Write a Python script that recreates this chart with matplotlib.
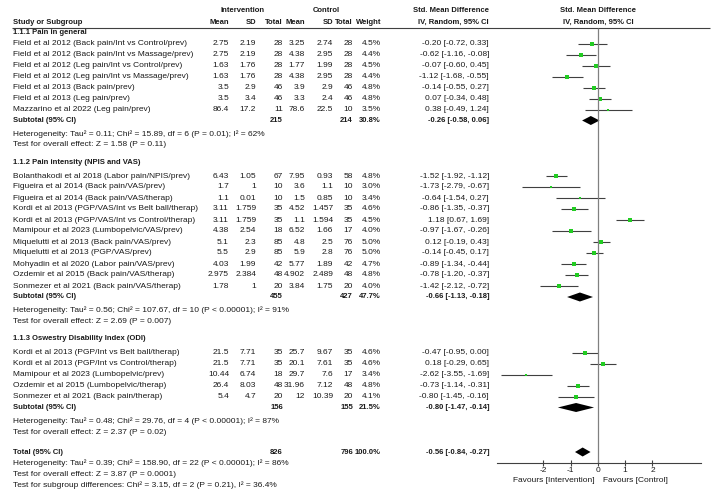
import matplotlib.pyplot as plt
import numpy as np

plt.rcParams['font.family'] = ['Liberation Sans', 'DejaVu Sans']
plt.rcParams['axes.unicode_minus'] = False

# ---- data ----
section_titles = ['1.1.1 Pain in general',
                  '1.1.2 Pain intensity (NPIS and VAS)',
                  '1.1.3 Oswestry Disability Index (ODI)']

studies = [
    'Field et al 2012 (Back pain/Int vs Control/prev)',
    'Field et al 2012 (Back pain/Int vs Massage/prev)',
    'Field et al 2012 (Leg pain/Int vs Control/prev)',
    'Field et al 2012 (Leg pain/Int vs Massage/prev)',
    'Field et al 2013 (Back pain/prev)',
    'Field et al 2013 (Leg pain/prev)',
    'Mazzarino et al 2022 (Leg pain/prev)',
    'Bolanthakodi et al 2018 (Labor pain/NPIS/prev)',
    'Figueira et al 2014 (Back pain/VAS/prev)',
    'Figueira et al 2014 (Back pain/VAS/therap)',
    'Kordi et al 2013 (PGP/VAS/Int vs Belt ball/therap)',
    'Kordi et al 2013 (PGP/VAS/Int vs Control/therap)',
    'Mamipour et al 2023 (Lumbopelvic/VAS/prev)',
    'Miquelutti et al 2013 (Back pain/VAS/prev)',
    'Miquelutti et al 2013 (PGP/VAS/prev)',
    'Mohyadin et al 2020 (Labor pain/VAS/prev)',
    'Ozdemir et al 2015 (Back pain/VAS/therap)',
    'Sonmezer et al 2021 (Back pain/VAS/therap)',
    'Kordi et al 2013 (PGP/Int vs Belt ball/therap)',
    'Kordi et al 2013 (PGP/Int vs Control/therap)',
    'Mamipour et al 2023 (Lumbopelvic/prev)',
    'Ozdemir et al 2015 (Lumbopelvic/therap)',
    'Sonmezer et al 2021 (Back pain/therap)',
]
group = [0] * 7 + [1] * 11 + [2] * 5

int_mean = [2.75, 2.75, 1.63, 1.63, 3.5, 3.5, 86.4,
            6.43, 1.7, 1.1, 3.11, 3.11, 4.38, 5.1, 5.5, 4.03, 2.975, 1.78,
            21.5, 21.5, 10.44, 26.4, 5.4]
int_sd = [2.19, 2.19, 1.76, 1.76, 2.9, 3.4, 17.2,
          1.05, 1, 0.01, 1.759, 1.759, 2.54, 2.3, 2.9, 1.99, 2.384, 1,
          7.71, 7.71, 6.74, 8.03, 4.7]
int_n = [28, 28, 28, 28, 46, 46, 11,
         67, 10, 10, 35, 35, 18, 85, 85, 42, 48, 20,
         35, 35, 18, 48, 20]
ctl_mean = [3.25, 4.38, 1.77, 4.38, 3.9, 3.3, 78.6,
            7.95, 3.6, 1.5, 4.52, 1.1, 6.52, 4.8, 5.9, 5.77, 4.902, 3.84,
            25.7, 20.1, 29.7, 31.96, 12]
ctl_sd = [2.74, 2.95, 1.99, 2.95, 2.9, 2.4, 22.5,
          0.93, 1.1, 0.85, 1.457, 1.594, 1.66, 2.5, 2.8, 1.89, 2.489, 1.75,
          9.67, 7.61, 7.6, 7.12, 10.39]
ctl_n = [28, 28, 28, 28, 46, 46, 10,
         58, 10, 10, 35, 35, 17, 76, 76, 42, 48, 20,
         35, 35, 17, 48, 20]
weight = [4.5, 4.4, 4.5, 4.4, 4.8, 4.8, 3.5,
          4.8, 3.0, 3.4, 4.6, 4.5, 4.0, 5.0, 5.0, 4.7, 4.8, 4.0,
          4.6, 4.6, 3.4, 4.8, 4.1]
smd = [-0.20, -0.62, -0.07, -1.12, -0.14, 0.07, 0.38,
       -1.52, -1.73, -0.64, -0.86, 1.18, -0.97, 0.12, -0.14, -0.89, -0.78, -1.42,
       -0.47, 0.18, -2.62, -0.73, -0.80]
ci_lo = [-0.72, -1.16, -0.60, -1.68, -0.55, -0.34, -0.49,
         -1.92, -2.79, -1.54, -1.35, 0.67, -1.67, -0.19, -0.45, -1.34, -1.20, -2.12,
         -0.95, -0.29, -3.55, -1.14, -1.45]
ci_hi = [0.33, -0.08, 0.45, -0.55, 0.27, 0.48, 1.24,
         -1.12, -0.67, 0.27, -0.37, 1.69, -0.26, 0.43, 0.17, -0.44, -0.37, -0.72,
         0.00, 0.65, -1.69, -0.31, -0.16]

sub_int_n = [215, 455, 156]
sub_ctl_n = [214, 427, 155]
sub_weight = [30.8, 47.7, 21.5]
sub_smd = [-0.26, -0.66, -0.80]
sub_lo = [-0.58, -1.13, -1.47]
sub_hi = [0.06, -0.18, -0.14]
sub_het = ['Heterogeneity: Tau² = 0.11; Chi² = 15.89, df = 6 (P = 0.01); I² = 62%',
           'Heterogeneity: Tau² = 0.56; Chi² = 107.67, df = 10 (P < 0.00001); I² = 91%',
           'Heterogeneity: Tau² = 0.48; Chi² = 29.76, df = 4 (P < 0.00001); I² = 87%']
sub_z = ['Test for overall effect: Z = 1.58 (P = 0.11)',
         'Test for overall effect: Z = 2.69 (P = 0.007)',
         'Test for overall effect: Z = 2.37 (P = 0.02)']

tot_int_n, tot_ctl_n, tot_weight = 826, 796, 100.0
tot_smd, tot_lo, tot_hi = -0.56, -0.84, -0.27
tot_notes = ['Heterogeneity: Tau² = 0.39; Chi² = 158.90, df = 22 (P < 0.00001); I² = 86%',
             'Test for overall effect: Z = 3.87 (P = 0.0001)',
             'Test for subgroup differences: Chi² = 3.15, df = 2 (P = 0.21), I² = 36.4%']

tick_vals = [-2, -1, 0, 1, 2]
tick_labels = ['-2', '-1', '0', '1', '2']

# ---- layout (pixel units) ----
W, H = 712, 495
FS = 6
FSB = 5.5
TXT = '#1a1a1a'
NAME_X = 13
cols = dict(mi=229, si=256, ni=283, mc=305, sc=333, nc=353, w=381, ci=489)
AXIS_Y = 463
LINE_Y = 27.5
ROW = 11

fig = plt.figure(figsize=(W / 100, H / 100), dpi=100)
ax = fig.add_axes([0, 0, 1, 1])
ax.set_xlim(0, W)
ax.set_ylim(H, 0)
ax.axis('off')

fx0, fx1 = 497, 701
axf = fig.add_axes([fx0 / W, 1 - AXIS_Y / H, (fx1 - fx0) / W, AXIS_Y / H])
axf.set_xlim(-3.7, 3.78)
axf.set_ylim(AXIS_Y, 0)
axf.patch.set_alpha(0)
for s in ['top', 'left', 'right']:
    axf.spines[s].set_visible(False)
axf.spines['bottom'].set_color('#404040')
axf.spines['bottom'].set_linewidth(0.8)
axf.set_yticks([])
axf.set_xticks(tick_vals)
axf.set_xticklabels(tick_labels, fontsize=FS)
axf.tick_params(axis='x', direction='inout', length=4, width=0.8, pad=1,
                colors='#404040', labelcolor=TXT)


def txt(x, y, s, ha='left', bold=False):
    ax.text(x, y, s, ha=ha, va='center', fontsize=FSB if bold else FS, color=TXT,
            fontweight='bold' if bold else 'normal')


def diamond(est, lo, hi, y, h=4.5):
    axf.fill([lo, est, hi, est], [y, y - h, y, y + h], color='black', lw=0)


def ci_text(e, lo, hi):
    return '%.2f [%.2f, %.2f]' % (e, lo, hi)


# headers
txt(243, 10, 'Intervention', ha='center', bold=True)
txt(326, 10, 'Control', ha='center', bold=True)
txt(cols['ci'], 10, 'Std. Mean Difference', ha='right', bold=True)
txt(598, 10, 'Std. Mean Difference', ha='center', bold=True)
txt(NAME_X, 22, 'Study or Subgroup', bold=True)
for key, lab in zip(['mi', 'si', 'ni', 'mc', 'sc', 'nc', 'w'],
                    ['Mean', 'SD', 'Total', 'Mean', 'SD', 'Total', 'Weight']):
    txt(cols[key], 22, lab, ha='right', bold=True)
txt(cols['ci'], 22, 'IV, Random, 95% CI', ha='right', bold=True)
txt(598, 22, 'IV, Random, 95% CI', ha='center', bold=True)
ax.hlines(LINE_Y, 12, 710, color='#404040', lw=0.8)

# body
head_gap = [10.5, 13.5, 13.5]
y = 33
for g, title in enumerate(section_titles):
    txt(NAME_X, y, title, bold=True)
    y += head_gap[g]
    idx = [i for i in range(len(studies)) if group[i] == g]
    for i in idx:
        txt(NAME_X, y, studies[i])
        txt(cols['mi'], y, '%g' % int_mean[i], ha='right')
        txt(cols['si'], y, '%g' % int_sd[i], ha='right')
        txt(cols['ni'], y, '%d' % int_n[i], ha='right')
        txt(cols['mc'], y, '%g' % ctl_mean[i], ha='right')
        txt(cols['sc'], y, '%g' % ctl_sd[i], ha='right')
        txt(cols['nc'], y, '%d' % ctl_n[i], ha='right')
        txt(cols['w'], y, '%.1f%%' % weight[i], ha='right')
        txt(cols['ci'], y, ci_text(smd[i], ci_lo[i], ci_hi[i]), ha='right')
        axf.hlines(y, ci_lo[i], ci_hi[i], color='#404040', lw=0.8)
        axf.plot(smd[i], y, 's', color='#22cc22', ms=0.6 * weight[i], mew=0)
        y += ROW
    txt(NAME_X, y, 'Subtotal (95% CI)', bold=True)
    txt(cols['ni'], y, '%d' % sub_int_n[g], ha='right', bold=True)
    txt(cols['nc'], y, '%d' % sub_ctl_n[g], ha='right', bold=True)
    txt(cols['w'], y, '%.1f%%' % sub_weight[g], ha='right', bold=True)
    txt(cols['ci'], y, ci_text(sub_smd[g], sub_lo[g], sub_hi[g]), ha='right', bold=True)
    diamond(sub_smd[g], sub_lo[g], sub_hi[g], y)
    y += 13.5
    txt(NAME_X, y, sub_het[g])
    y += ROW
    txt(NAME_X, y, sub_z[g])
    y += 17.5

y += 2.5
txt(NAME_X, y, 'Total (95% CI)', bold=True)
txt(cols['ni'], y, '%d' % tot_int_n, ha='right', bold=True)
txt(cols['nc'], y, '%d' % tot_ctl_n, ha='right', bold=True)
txt(cols['w'], y, '%.1f%%' % tot_weight, ha='right', bold=True)
txt(cols['ci'], y, ci_text(tot_smd, tot_lo, tot_hi), ha='right', bold=True)
diamond(tot_smd, tot_lo, tot_hi, y)
for note in tot_notes:
    y += ROW
    txt(NAME_X, y, note)

axf.vlines(0, LINE_Y, AXIS_Y, color='#808080', lw=0.9)

txt(595, 480, 'Favours [Intervention]', ha='right')
txt(603, 480, 'Favours [Control]')

fig.savefig('out.png', dpi=100)
